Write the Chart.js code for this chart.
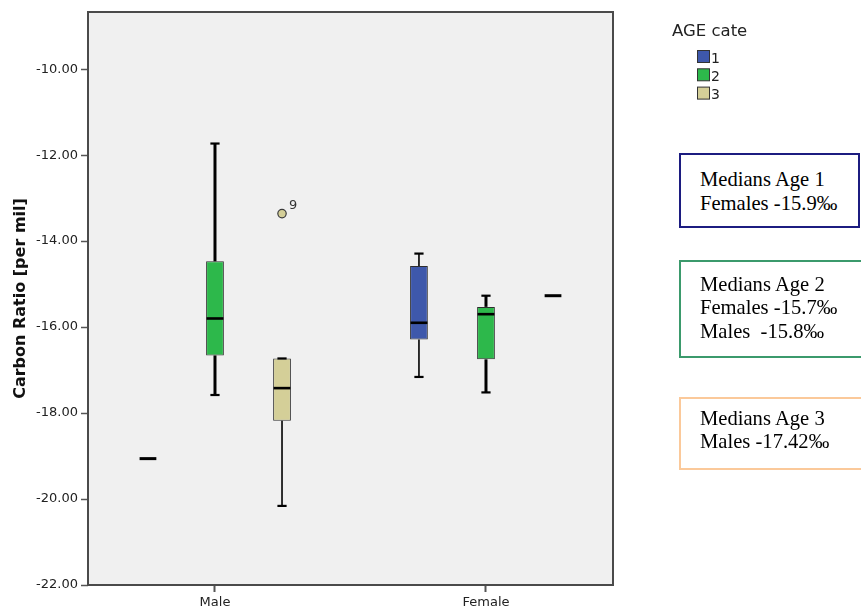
<!DOCTYPE html>
<html>
<head>
<meta charset="utf-8">
<title>Carbon Ratio by Sex and Age Category</title>
<script src="https://cdn.jsdelivr.net/npm/chart.js@4/dist/chart.umd.min.js"></script>
<style>
  html, body { margin: 0; padding: 0; background: #fff; overflow: hidden; }
  #wrap { position: relative; width: 861px; height: 612px; overflow: hidden; }
  canvas { display: block; }
  .note {
    position: absolute; left: 679px; box-sizing: border-box; border: 2px solid;
    font-family: "Liberation Serif", "Times New Roman", serif; font-size: 20.6px;
    line-height: 23.5px; color: #000; padding-left: 19px; white-space: pre; background: #fff;
  }
</style>
</head>
<body>
<div id="wrap">
  <canvas id="chart" width="861" height="612"></canvas>
  <div class="note" id="note1" style="top:153px;width:181px;height:75px;border-color:#1c1c80;padding-top:13px"></div>
  <div class="note" id="note2" style="top:260px;width:200px;height:98px;border-color:#3b9a6c;padding-top:10.5px"></div>
  <div class="note" id="note3" style="top:396.5px;width:200px;height:73px;border-color:#fbc99a;padding-top:8px"></div>
</div>
<script>
// ---- data ----
const categories = ['Male', 'Female'];
const ageGroups = ['1', '2', '3'];
const legendTitle = 'AGE cate';
const yTitle = 'Carbon Ratio [per mil]';
const yTicks = [-22, -20, -18, -16, -14, -12, -10];

// five-number summaries per sex (Male, Female)
const age1Min    = [-19.06, -17.16];
const age1Q1     = [-19.06, -16.29];
const age1Median = [-19.06, -15.9];
const age1Q3     = [-19.06, -14.58];
const age1Max    = [-19.06, -14.29];

const age2Min    = [-17.58, -17.52];
const age2Q1     = [-16.66, -16.75];
const age2Median = [-15.8, -15.7];
const age2Q3     = [-14.47, -15.53];
const age2Max    = [-11.73, -15.27];

const age3Min    = [-20.16, -15.27];
const age3Q1     = [-18.18, -15.27];
const age3Median = [-17.42, -15.27];
const age3Q3     = [-16.73, -15.27];
const age3Max    = [-16.73, -15.27];

// outlying cases (value and case number) per sex
const age3Outlier     = [-13.36, null];
const age3OutlierCase = ['9', null];

// ---- styling ----
const ageColors = ['#3e58ab', '#2db84b', '#d4cf98'];
const whiskerWidths = [1.6, 3, 1.6];
const FONT = '"DejaVu Sans", "Liberation Sans", Arial, sans-serif';

function stats(min, q1, med, q3, max, out, outCase) {
  return { min, q1, med, q3, max, out: out || [], outCase: outCase || [] };
}
const ageStats = [
  stats(age1Min, age1Q1, age1Median, age1Q3, age1Max),
  stats(age2Min, age2Q1, age2Median, age2Q3, age2Max),
  stats(age3Min, age3Q1, age3Median, age3Q3, age3Max, age3Outlier, age3OutlierCase)
];

const datasets = ageGroups.map((g, k) => ({
  label: g,
  data: categories.map((c, i) => ({ x: i, y: [ageStats[k].q1[i], ageStats[k].q3[i]] })),
  backgroundColor: ageColors[k],
  borderColor: '#2e2e2e',
  borderWidth: 1,
  borderSkipped: false,
  stats: ageStats[k],
  whiskerWidth: whiskerWidths[k]
}));

// plot panel background and frame
const panelPlugin = {
  id: 'panel',
  beforeDraw(chart) {
    const { ctx, chartArea: a } = chart;
    ctx.save();
    ctx.fillStyle = '#f0f0f0';
    ctx.fillRect(a.left, a.top, a.right - a.left, a.bottom - a.top);
    ctx.restore();
  },
  afterDraw(chart) {
    const { ctx, chartArea: a } = chart;
    ctx.save();
    ctx.strokeStyle = '#4a4a4a';
    ctx.lineWidth = 2;
    ctx.strokeRect(a.left, a.top, a.right - a.left, a.bottom - a.top);
    ctx.restore();
  }
};

// whiskers, caps, medians and outliers on top of the floating bars
const whiskerPlugin = {
  id: 'whiskers',
  afterDatasetsDraw(chart) {
    const ctx = chart.ctx;
    const ys = chart.scales.y;
    const py = v => ys.getPixelForValue(v);
    const seg = (x1, y1, x2, y2) => { ctx.beginPath(); ctx.moveTo(x1, y1); ctx.lineTo(x2, y2); ctx.stroke(); };
    chart.data.datasets.forEach((ds, di) => {
      const meta = chart.getDatasetMeta(di);
      const s = ds.stats;
      meta.data.forEach((bar, i) => {
        const x = bar.x, w = bar.width, cap = 4.6;
        ctx.save();
        ctx.strokeStyle = '#000';
        const flat = s.min[i] === s.max[i];
        if (!flat) {
          ctx.lineWidth = ds.whiskerWidth;
          if (s.max[i] > s.q3[i]) seg(x, py(s.q3[i]), x, py(s.max[i]));
          if (s.min[i] < s.q1[i]) seg(x, py(s.q1[i]), x, py(s.min[i]));
          ctx.lineWidth = 2.2;
          seg(x - cap, py(s.max[i]), x + cap, py(s.max[i]));
          seg(x - cap, py(s.min[i]), x + cap, py(s.min[i]));
        }
        ctx.lineWidth = flat ? 3 : 2.6;
        seg(x - w / 2 + 0.5, py(s.med[i]), x + w / 2 - 0.5, py(s.med[i]));
        const o = s.out[i];
        if (o !== null && o !== undefined) {
          const oy = py(o);
          ctx.beginPath();
          ctx.arc(x, oy, 4.2, 0, Math.PI * 2);
          ctx.fillStyle = ds.backgroundColor;
          ctx.fill();
          ctx.lineWidth = 1.2;
          ctx.strokeStyle = '#3a3a3a';
          ctx.stroke();
          ctx.fillStyle = '#333';
          ctx.font = '13px ' + FONT;
          ctx.textBaseline = 'alphabetic';
          ctx.textAlign = 'left';
          ctx.fillText(s.outCase[i], x + 7, oy - 5);
        }
        ctx.restore();
      });
    });
  }
};

// legend block on the right
const legendPlugin = {
  id: 'ageLegend',
  afterDraw(chart) {
    const ctx = chart.ctx;
    ctx.save();
    ctx.fillStyle = '#222';
    ctx.textAlign = 'left';
    ctx.textBaseline = 'alphabetic';
    ctx.font = '16.5px ' + FONT;
    ctx.fillText(legendTitle, 672, 36);
    ctx.font = '14px ' + FONT;
    chart.data.datasets.forEach((ds, i) => {
      const top = 50 + i * 18.3;
      ctx.fillStyle = ds.backgroundColor;
      ctx.fillRect(697.5, top + 0.5, 12, 12);
      ctx.strokeStyle = '#333';
      ctx.lineWidth = 1;
      ctx.strokeRect(697.5, top + 0.5, 12, 12);
      ctx.fillStyle = '#222';
      ctx.fillText(ds.label, 711, top + 12.5);
    });
    ctx.restore();
  }
};

new Chart(document.getElementById('chart'), {
  type: 'bar',
  data: { datasets },
  options: {
    responsive: false,
    devicePixelRatio: 1,
    animation: false,
    categoryPercentage: 0.742,
    barPercentage: 0.265,
    layout: { padding: { top: 12, right: 248, left: 0, bottom: 0 } },
    plugins: { legend: { display: false }, tooltip: { enabled: false } },
    scales: {
      x: {
        type: 'linear',
        min: -0.4686,
        max: 1.4687,
        offset: false,
        afterBuildTicks: s => { s.ticks = categories.map((c, i) => ({ value: i })); },
        afterFit: s => { s.height = 27; },
        grid: { display: true, offset: false, drawOnChartArea: false, drawTicks: true, tickLength: 7, tickWidth: 2, tickColor: '#555' },
        border: { display: false },
        ticks: {
          autoSkip: false, maxRotation: 0, padding: 3, color: '#222',
          font: { family: FONT, size: 13 },
          callback: v => categories[v] !== undefined ? categories[v] : ''
        }
      },
      y: {
        type: 'linear',
        min: -22,
        max: -8.67,
        afterBuildTicks: s => { s.ticks = yTicks.map(v => ({ value: v })); },
        afterFit: s => { s.width = 88; },
        grid: { display: true, drawOnChartArea: false, drawTicks: true, tickLength: 7, tickWidth: 1.5, tickColor: '#555' },
        border: { display: false },
        ticks: {
          padding: 3, color: '#222',
          font: { family: FONT, size: 13 },
          callback: v => Number(v).toFixed(2)
        },
        title: {
          display: true, text: yTitle, color: '#111',
          font: { family: FONT, size: 16, weight: 'bold' },
          padding: { top: 11, bottom: 0 }
        }
      }
    }
  },
  plugins: [panelPlugin, whiskerPlugin, legendPlugin]
});

// median notes, built from the same median values
const permil = v => String(v) + '\u2030';
document.getElementById('note1').textContent =
  'Medians Age 1\nFemales ' + permil(age1Median[1]);
document.getElementById('note2').textContent =
  'Medians Age 2\nFemales ' + permil(age2Median[1]) + '\nMales  ' + permil(age2Median[0]);
document.getElementById('note3').textContent =
  'Medians Age 3\nMales ' + permil(age3Median[0]);
</script>
</body>
</html>
